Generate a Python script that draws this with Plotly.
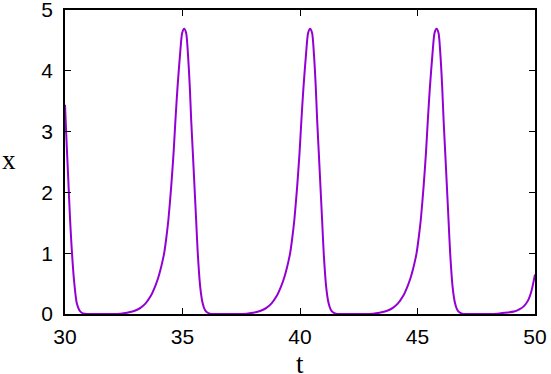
import plotly.graph_objects as go

# Time values (t) and x values
t_vals = [
    30.0, 30.07, 30.14, 30.21, 30.28, 30.38, 30.5, 30.6, 30.71, 30.85, 31.0,
    31.87, 32.37, 32.64, 32.87, 33.07, 33.21, 33.42, 33.64, 33.84, 33.97, 34.07, 34.15, 34.22, 34.31,
    34.40, 34.52, 34.62, 34.70, 34.79, 34.90, 34.985,
    35.07, 35.155, 35.23, 35.31, 35.37, 35.44, 35.51, 35.58, 35.65, 35.75, 35.85, 35.95, 36.04, 36.17, 36.32,
    37.23, 37.73, 38.0, 38.23, 38.43, 38.57, 38.78, 39.0, 39.2, 39.33, 39.43, 39.51, 39.58, 39.67,
    39.76, 39.88, 39.98, 40.06, 40.15, 40.26, 40.345,
    40.43, 40.515, 40.59, 40.67, 40.73, 40.80, 40.87, 40.94, 41.01, 41.11, 41.21, 41.31, 41.40, 41.53, 41.68,
    42.61, 43.11, 43.38, 43.61, 43.81, 43.95, 44.16, 44.38, 44.58, 44.71, 44.81, 44.89, 44.96, 45.05,
    45.14, 45.26, 45.36, 45.44, 45.53, 45.64, 45.725,
    45.81, 45.895, 45.97, 46.05, 46.11, 46.18, 46.25, 46.32, 46.39, 46.49, 46.59, 46.69, 46.78, 46.91, 47.06,
    47.9, 48.4, 48.7, 49.11, 49.35, 49.53, 49.7, 49.85, 50.0,
]
x_vals = [
    3.44, 2.8, 2.21, 1.6, 1.11, 0.57, 0.18, 0.07, 0.02, 0.005, 0.0,
    0.0, 0.005, 0.02, 0.04, 0.07, 0.10, 0.17, 0.29, 0.46, 0.60, 0.74, 0.87, 1.0, 1.25,
    1.55, 2.10, 2.65, 3.19, 3.74, 4.29, 4.62,
    4.69, 4.62, 4.29, 3.74, 3.19, 2.65, 2.10, 1.55, 1.00, 0.46, 0.19, 0.07, 0.03, 0.005, 0.0,
    0.0, 0.005, 0.02, 0.04, 0.07, 0.10, 0.17, 0.29, 0.46, 0.60, 0.74, 0.87, 1.0, 1.25,
    1.55, 2.10, 2.65, 3.19, 3.74, 4.29, 4.62,
    4.69, 4.62, 4.29, 3.74, 3.19, 2.65, 2.10, 1.55, 1.00, 0.46, 0.19, 0.07, 0.03, 0.005, 0.0,
    0.0, 0.005, 0.02, 0.04, 0.07, 0.10, 0.17, 0.29, 0.46, 0.60, 0.74, 0.87, 1.0, 1.25,
    1.55, 2.10, 2.65, 3.19, 3.74, 4.29, 4.62,
    4.69, 4.62, 4.29, 3.74, 3.19, 2.65, 2.10, 1.55, 1.00, 0.46, 0.19, 0.07, 0.03, 0.005, 0.0,
    0.0, 0.005, 0.02, 0.04, 0.08, 0.13, 0.22, 0.38, 0.65,
]

x_ticks = [30, 35, 40, 45, 50]
y_ticks = [0, 1, 2, 3, 4, 5]

fig = go.Figure()
fig.add_trace(go.Scatter(
    x=t_vals, y=x_vals, mode="lines",
    line=dict(color="#9400D3", width=2, shape="spline", smoothing=0.7),
    showlegend=False, hoverinfo="skip",
))

axis_common = dict(
    showline=True, linecolor="black", linewidth=1.5, mirror="ticks",
    ticks="inside", ticklen=6, tickwidth=1, tickcolor="black",
    showgrid=False, zeroline=False, automargin=False, ticklabeloverflow="allow",
    tickfont=dict(family="Liberation Sans, Arial, sans-serif", size=21, color="black"),
)

serif = dict(family="Liberation Serif, Times New Roman, serif", size=27, color="black")

fig.update_layout(
    width=551, height=374,
    margin=dict(l=65, r=16, t=10, b=60),
    paper_bgcolor="white", plot_bgcolor="white",
    xaxis=dict(range=[30, 50], tickvals=x_ticks, ticktext=[str(v) for v in x_ticks],
               ticklabelstandoff=3, **axis_common),
    yaxis=dict(range=[0, 5], tickvals=y_ticks, ticktext=[str(v) for v in y_ticks],
               ticklabelstandoff=6, **axis_common),
    annotations=[
        dict(text="x", x=0, xref="paper", xanchor="left", xshift=-65,
             y=0.5, yref="paper", yanchor="middle", yshift=2, showarrow=False, font=serif),
        dict(text="t", x=0.5, xref="paper", xanchor="center",
             y=0, yref="paper", yanchor="top", yshift=-33, showarrow=False, font=serif),
    ],
)

fig.write_html("out.html", config={"displayModeBar": False},
               post_script="document.body.style.margin='0';document.body.style.overflow='hidden';")
